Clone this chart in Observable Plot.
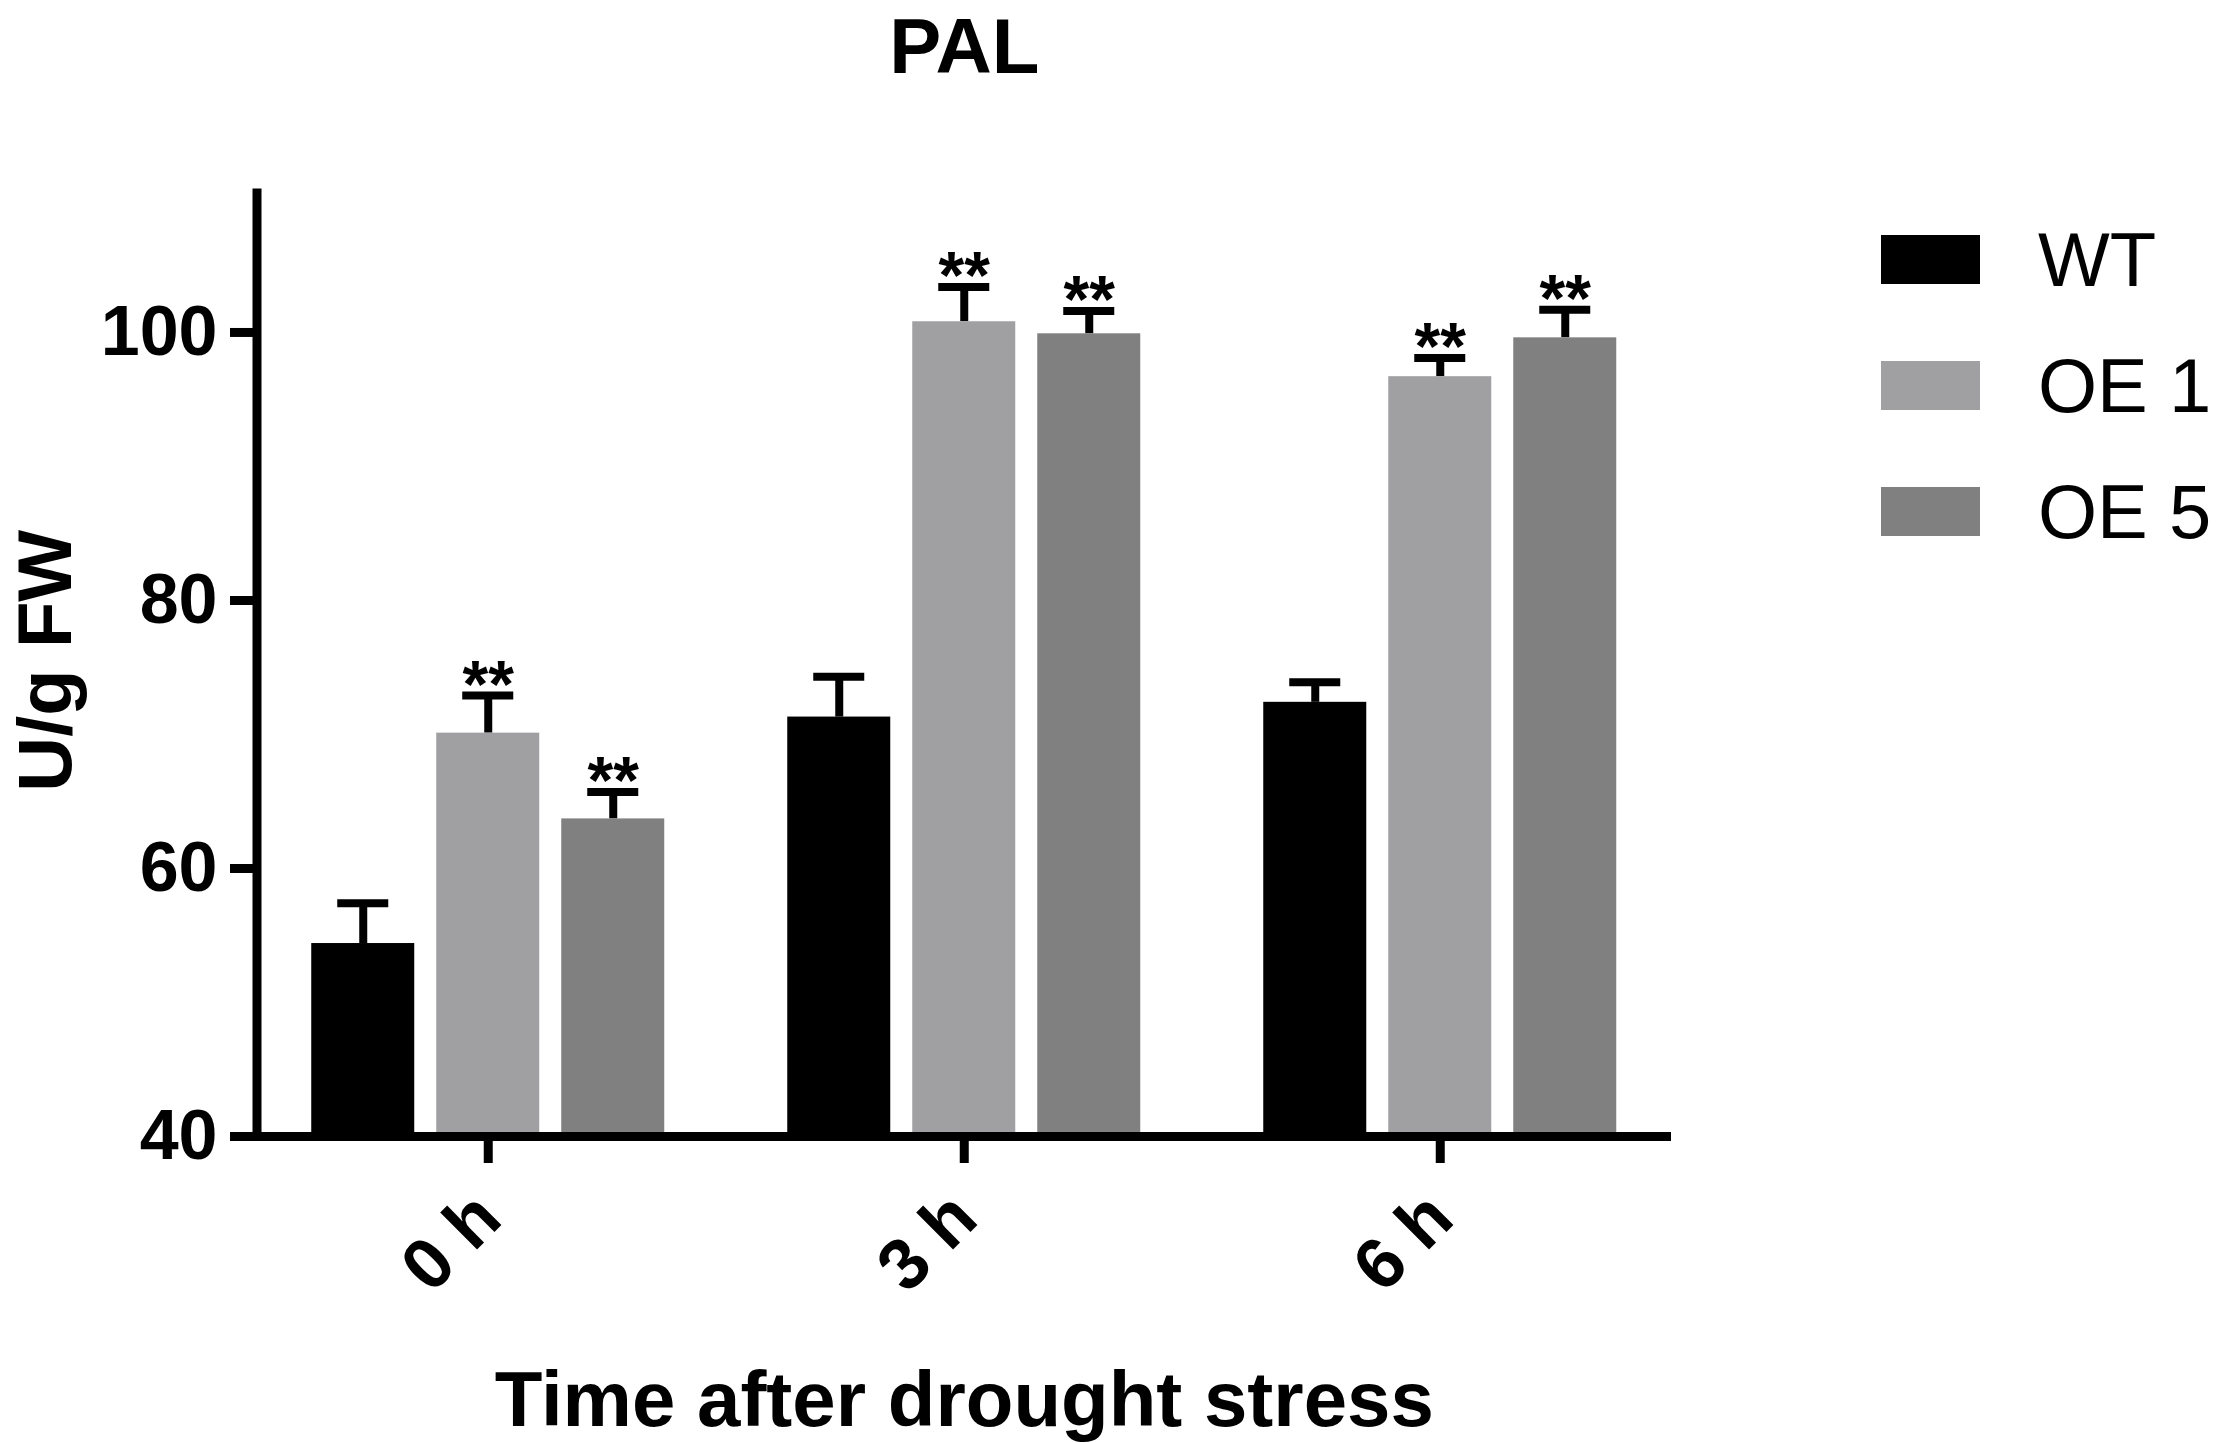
<!DOCTYPE html>
<html><head><meta charset="utf-8">
<script src="https://cdn.jsdelivr.net/npm/d3@7"></script>
<script src="https://cdn.jsdelivr.net/npm/@observablehq/plot@0.6"></script>
<style>
html,body{margin:0;padding:0;background:#fff;}
#wrap{position:relative;width:2217px;height:1443px;font-family:"Liberation Sans",Arial,sans-serif;}
#chart{position:absolute;left:0;top:0;}
#legend{position:absolute;left:1881px;top:196px;}
#legend, #legend *{font-family:"Liberation Sans",Arial,sans-serif !important;font-size:76px !important;color:#000 !important;}
#legend [class$="-swatch"]{display:flex !important;align-items:center !important;height:126px !important;padding:0 !important;margin:0 !important;}
#legend svg{margin-right:58px !important;}
</style></head>
<body><div id="wrap"><div id="chart"></div><div id="legend"></div></div>
<script>
const times = ["0 h", "3 h", "6 h"];
const series = ["WT", "OE 1", "OE 5"];
const colors = ["#000000", "#a0a0a3", "#808080"];
const wtMean = [54.4, 71.3, 72.4];
const wtErr = [3.0, 3.0, 1.5];
const oe1Mean = [70.1, 100.8, 96.7];
const oe1Err = [2.8, 2.6, 1.4];
const oe5Mean = [63.7, 99.9, 99.6];
const oe5Err = [2.0, 1.7, 2.1];
const wtSig = ["", "", ""];
const oe1Sig = ["**", "**", "**"];
const oe5Sig = ["**", "**", "**"];
const yTicks = [40, 60, 80, 100];
const yMax = 110.4;
const title = "PAL";
const xTitle = "Time after drought stress";
const yTitle = "U/g FW";

const means = [wtMean, oe1Mean, oe5Mean];
const errs = [wtErr, oe1Err, oe5Err];
const sigs = [wtSig, oe1Sig, oe5Sig];
const rows = series.map((s, i) => times.map((t, j) => ({
  time: t, series: s, mean: means[i][j], top: means[i][j] + errs[i][j], sig: sigs[i][j]
})));

const offsets = [-125, 0, 125];
const font = "Liberation Sans, Arial, sans-serif";
const marks = [];
rows.forEach((data, i) => {
  const dx = offsets[i];
  marks.push(Plot.ruleX(data, {x: "time", y1: "mean", y2: "top", stroke: "#000", strokeWidth: 8, dx}));
  marks.push(Plot.tickY(data, {x: "time", y: "top", stroke: "#000", strokeWidth: 8, insetLeft: 26, insetRight: 26, dx}));
  marks.push(Plot.barY(data, {x: "time", y1: yTicks[0], y2: "mean", fill: colors[i], dx}));
  marks.push(Plot.text(data, {x: "time", y: "top", text: "sig", dx, dy: 11, lineAnchor: "bottom", fontSize: 66, fontWeight: "bold", fill: "#000"}));
});

const chart = Plot.plot({
  width: 2217,
  height: 1443,
  marginLeft: 256.5,
  marginRight: 546,
  marginTop: 192.6,
  marginBottom: 307,
  style: {fontFamily: font, background: "#fff", color: "#000", overflow: "visible"},
  x: {domain: times, paddingInner: 0.7836, paddingOuter: 0.3776, round: false},
  y: {domain: [yTicks[0], yMax]},
  marks: [
    ...marks,
    Plot.ruleY([yTicks[0]], {stroke: "#000", strokeWidth: 9}),
    Plot.frame({anchor: "left", stroke: "#000", strokeWidth: 9}),
    Plot.axisY({ticks: yTicks, tickSize: 26.5, tickPadding: 13, fontSize: 70, fontWeight: "bold", strokeWidth: 9, label: null}),
    Plot.axisX({tickSize: 27, tickPadding: 42, tickRotate: -45, fontSize: 72, fontWeight: "bold", strokeWidth: 9, label: null}),
    Plot.text([title], {frameAnchor: "top", textAnchor: "middle", lineAnchor: "bottom", dy: -120.6, fontSize: 78, fontWeight: "bold", fill: "#000"}),
    Plot.text([xTitle], {frameAnchor: "bottom", textAnchor: "middle", lineAnchor: "bottom", dy: 289, fontSize: 78, fontWeight: "bold", fill: "#000"}),
    Plot.text([yTitle], {frameAnchor: "left", textAnchor: "middle", lineAnchor: "bottom", rotate: -90, dx: -186.5, dy: -4, fontSize: 76, fontWeight: "bold", fill: "#000"})
  ]
});
document.getElementById("chart").appendChild(chart);

const legend = Plot.legend({
  color: {type: "ordinal", domain: series, range: colors},
  legend: "swatches",
  swatchWidth: 99,
  swatchHeight: 49,
  columns: 1,
  className: "lg"
});
document.getElementById("legend").appendChild(legend);
</script>
</body></html>
